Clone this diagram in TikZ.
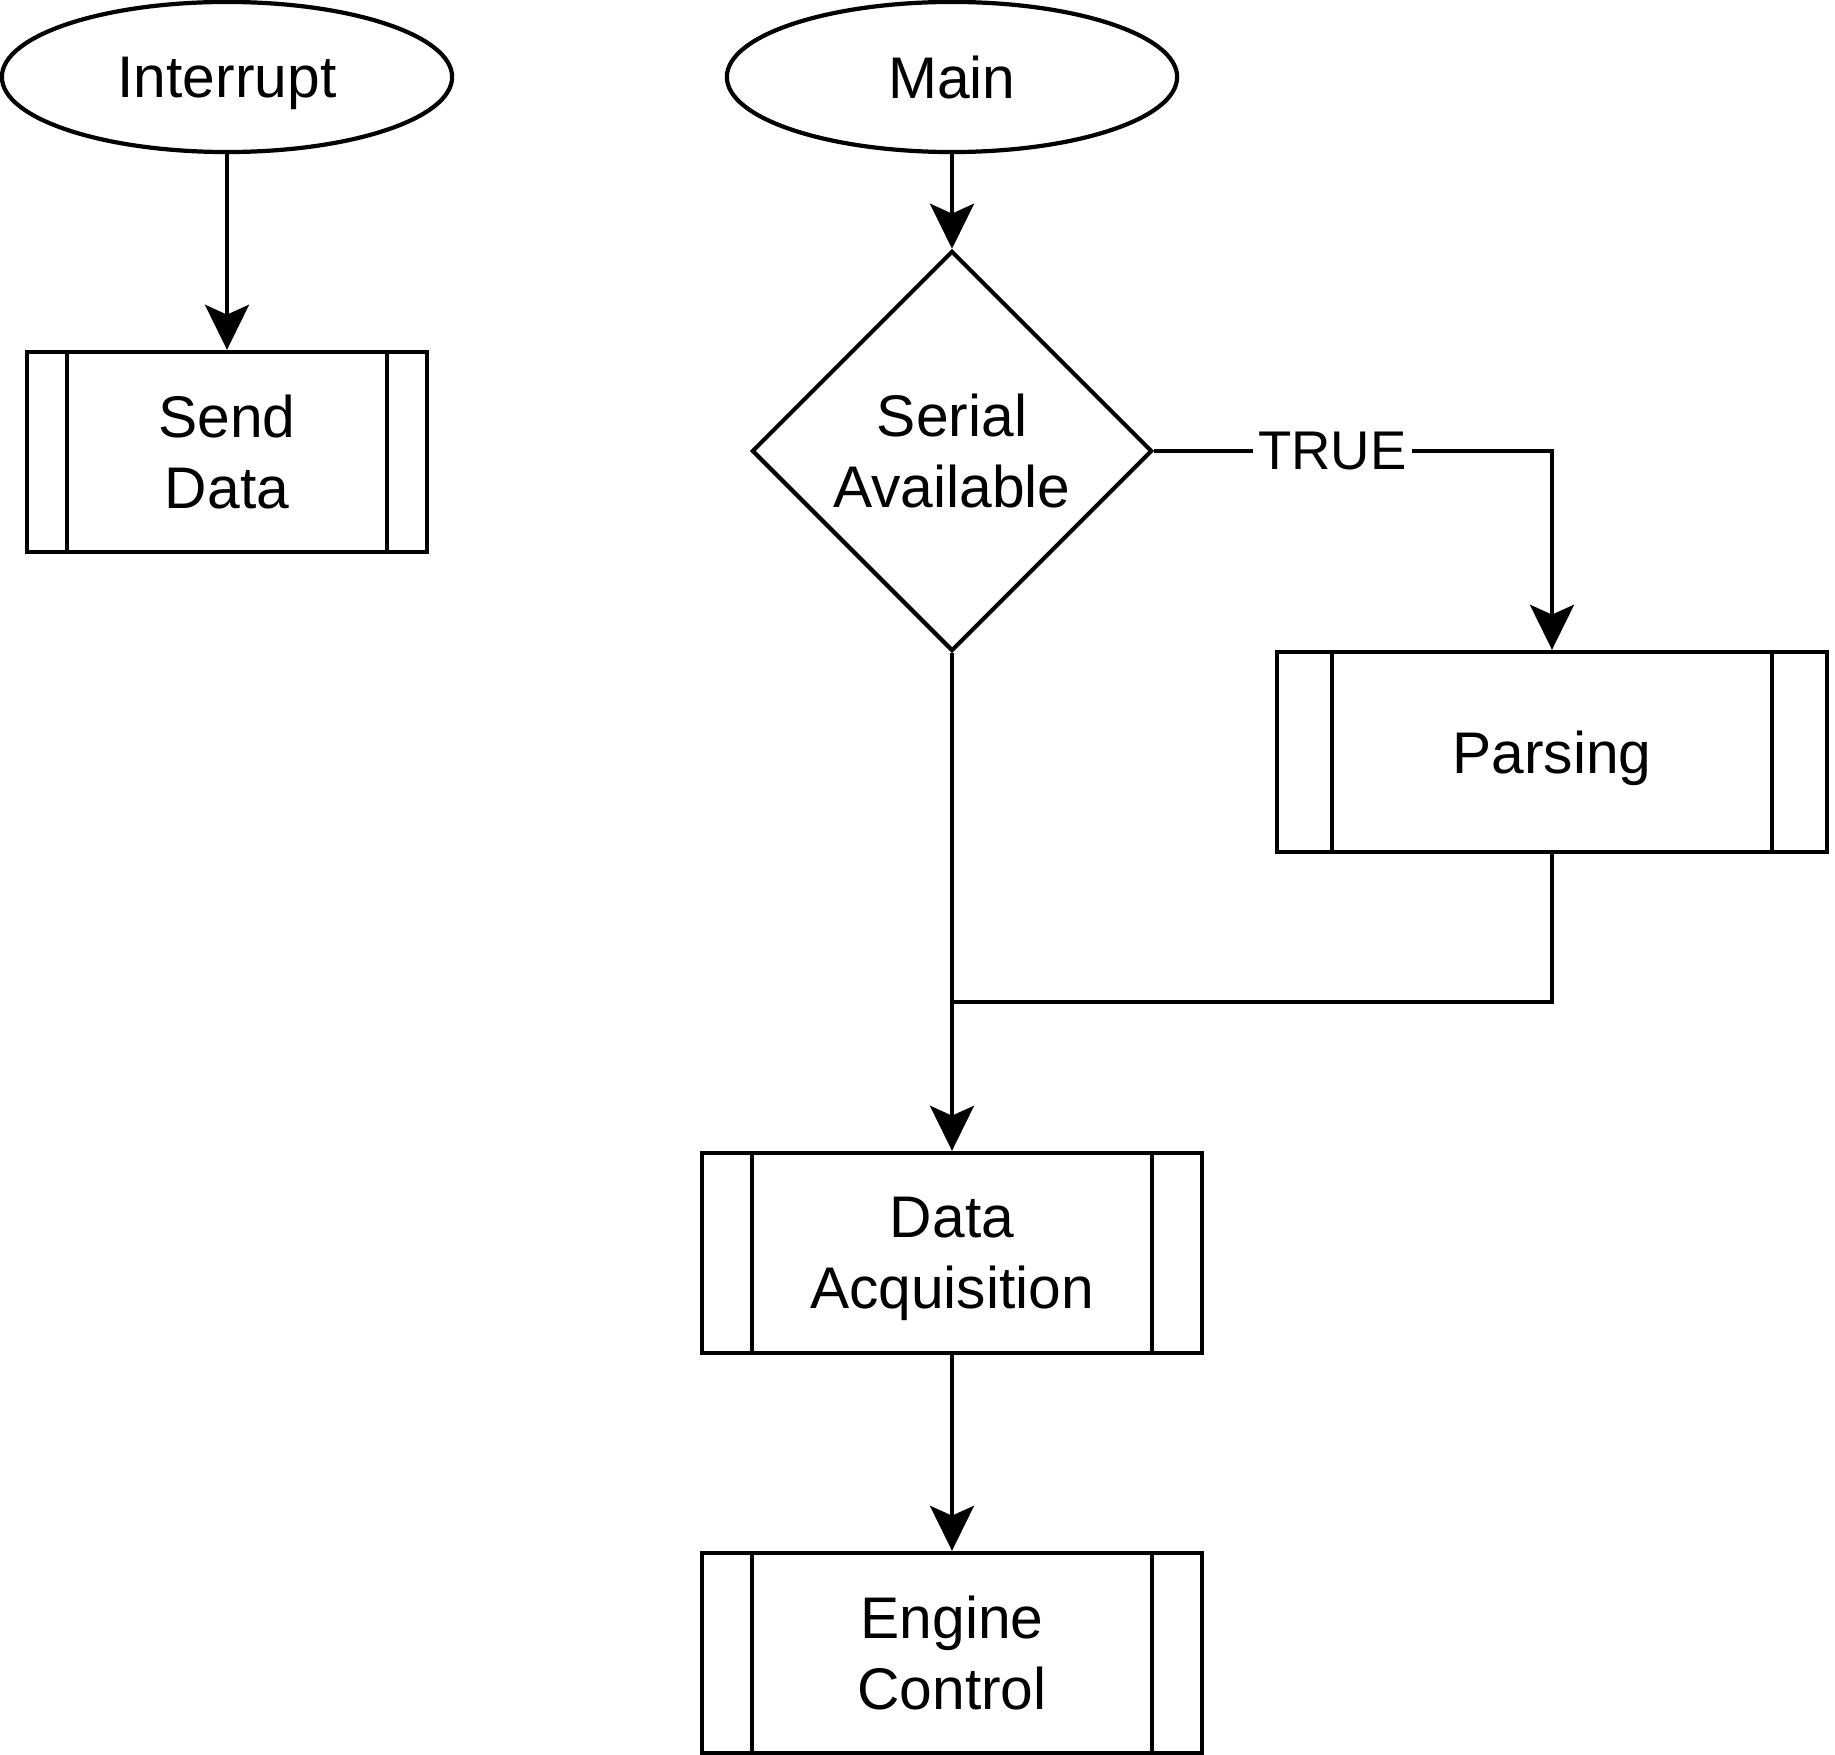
\documentclass[tikz,border=0pt]{standalone}
\usepackage{fontspec}
\setmainfont{Liberation Sans}
\usetikzlibrary{shapes.geometric,arrows.meta,calc}
\begin{document}
\begin{tikzpicture}[x=0.01cm,y=-0.01cm,
  every node/.style={font=\fontsize{16.7}{20.2}\selectfont, align=center, inner sep=0pt, line width=1.2pt, text depth=0pt},
  term/.style={draw, ellipse, minimum width=4.5cm, minimum height=1.5cm},
  proc/.style={draw, rectangle, minimum height=2cm,
    path picture={\draw[line width=1.2pt]
      ($(path picture bounding box.north west)!0.1!(path picture bounding box.north east)$) --
      ($(path picture bounding box.south west)!0.1!(path picture bounding box.south east)$)
      ($(path picture bounding box.north west)!0.9!(path picture bounding box.north east)$) --
      ($(path picture bounding box.south west)!0.9!(path picture bounding box.south east)$);}},
  dec/.style={draw, diamond, minimum width=4cm, minimum height=4cm},
  line/.style={line width=1.2pt},
  conn/.style={line width=1.2pt, -{Stealth[length=12.8pt,width=12.5pt,inset=2.8pt]}},
  lbl/.style={fill=white, font=\fontsize{15.5}{18}\selectfont, inner sep=1.5pt}
]
\useasboundingbox (0,0) rectangle (1835,1755);
\node[term] (intr) at (227,77) {Interrupt};
\node[term] (main) at (952,77) {Main};
\node[proc, minimum width=4cm] (send) at (227,452) {Send\\Data};
\node[dec] (ser) at (952,451) {Serial\\Available};
\node[proc, minimum width=5.5cm] (pars) at (1552,752) {Parsing};
\node[proc, minimum width=5cm] (acq) at (952,1253) {Data\\Acquisition};
\node[proc, minimum width=5cm] (eng) at (952,1653) {Engine\\Control};
\coordinate (join) at (952,1002);

\draw[conn] (intr.south) -- (send.north);
\draw[conn] (main.south) -- (ser.north);
\draw[conn] (ser.east) -| node[lbl, pos=0.224] {TRUE} (pars.north);
\draw[line] (pars.south) |- (join);
\draw[conn] (ser.south) -- (acq.north);
\draw[conn] (acq.south) -- (eng.north);
\end{tikzpicture}
\end{document}
